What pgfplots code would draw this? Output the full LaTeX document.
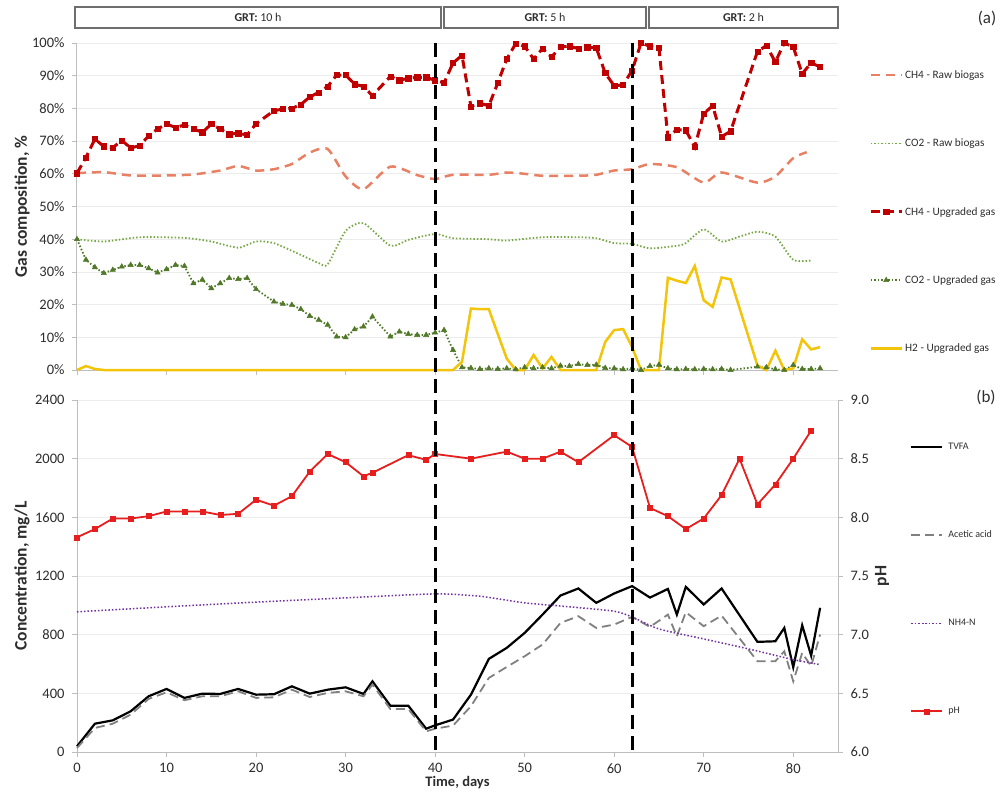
\documentclass[border=0pt]{standalone}
\usepackage{fontspec}
\setmainfont{Carlito}
\usepackage{pgfplots}
\pgfplotsset{compat=1.18}

\definecolor{ch4raw}{RGB}{232,128,100}
\definecolor{co2raw}{RGB}{120,168,70}
\definecolor{ch4up}{RGB}{192,0,0}
\definecolor{co2up}{RGB}{80,120,40}
\definecolor{htwo}{RGB}{242,196,10}
\definecolor{nhfour}{RGB}{112,48,160}
\definecolor{phred}{RGB}{230,30,30}
\definecolor{axgray}{RGB}{190,190,190}
\definecolor{gridgray}{RGB}{236,236,236}
\definecolor{txt}{RGB}{45,45,45}
\definecolor{boxgray}{RGB}{110,110,110}

\newcommand{\tickfont}{\fontsize{14.5}{16}\selectfont}
\newcommand{\labfont}{\bfseries\fontsize{17.5}{19}\selectfont}
\newcommand{\xlabfont}{\bfseries\fontsize{14.5}{16}\selectfont}

\pgfplotsset{
  common/.style={
    scale only axis, width=761pt, xmin=0, xmax=85,
    xtick={0,10,...,80},
    tick align=outside, major tick length=5pt,
    axis line style={draw=axgray, line width=1pt},
    tick style={draw=axgray, line width=0.8pt},
    tick label style={font=\tickfont, text=txt},
    xticklabel style={yshift=-3pt},
    /pgf/number format/assume math mode=true,
    /pgf/number format/1000 sep={},
    ymajorgrids, major grid style={draw=gridgray, line width=0.8pt},
    clip=false,
    legend cell align=left,
    legend image code/.code={\draw[mark repeat=2,mark phase=2,##1] plot coordinates {(0pt,0pt) (15.5pt,0pt) (31pt,0pt)};},
  }
}

\begin{document}
\begin{tikzpicture}
\path[use as bounding box] (0,0) rectangle (1000pt,-793pt);

% ---------------- (a) gas composition ----------------
\begin{axis}[common, at={(77pt,-43pt)}, anchor=north west, height=327pt,
  axis x line*=bottom, axis y line*=left,
  ymin=0, ymax=100, ytick={0,10,...,100},
  yticklabel={\pgfmathprintnumber{\tick}\%},
  yticklabel style={xshift=-4pt},
  xticklabels={},
  ylabel={Gas composition, \%},
  ylabel style={font=\labfont, text=txt, at={(rel axis cs:-0.0723,0.5)}, anchor=center},
  legend style={at={(rel axis cs:1.0407,0.4835)}, anchor=west, draw=none, fill=none,
    row sep=55pt, font=\fontsize{11.3}{13}\selectfont, text=txt, inner sep=0pt,
    nodes={inner sep=2pt}},
]
\addplot[ch4raw, line width=2.5pt, dash pattern=on 9pt off 6pt, smooth, tension=0.4] coordinates {
(0,60.2) (3,60.5) (6,59.5) (10,59.5) (13,59.8) (16,61.0) (18,62.4) (20,61.0) (22,61.4)
(24,63.0) (26,66.5) (28,67.6) (30,59.2) (32,55.3) (35,62.2) (38,59.6) (40,58.4)
(42,59.7) (46,59.7) (48,60.4) (50,60.0) (52,59.4) (56,59.4) (58,59.7) (60,61.0)
(62,61.4) (64,63.0) (67,62.0) (70,57.3) (72,60.4) (76,57.3) (78,59.2) (80,64.8) (81.5,66.6)};
\addlegendentry{CH4 - Raw biogas}

\addplot[co2raw, line width=1.8pt, dash pattern=on 1.5pt off 2pt, smooth, tension=0.4] coordinates {
(0,40.0) (3,39.3) (7,40.6) (12,40.4) (15,39.3) (18,37.4) (20,39.3) (22,38.8) (25,35.2)
(27,32.7) (28,32.3) (30,42.5) (32,44.9) (35,38.0) (37,39.8) (40,41.6) (42,40.3) (46,40.0)
(48,39.6) (52,40.6) (56,40.6) (58,40.3) (60,38.8) (62,38.6) (64,37.2) (67,38.0) (68,38.8)
(70,43.0) (72,39.3) (74,40.8) (76,42.3) (78,40.8) (80,33.7) (82,33.5)};
\addlegendentry{CO2 - Raw biogas}

\addplot[ch4up, line width=3pt, dash pattern=on 9pt off 5pt, mark=square*, mark size=2.6pt,
  mark options={solid, line width=0.5pt}] coordinates {
(0,60.2) (1,65.0) (2,70.6) (3,68.4) (4,68.0) (5,70.2) (6,67.9) (7,68.6) (8,71.6) (9,73.7)
(10,75.2) (11,74.2) (12,74.9) (13,73.7) (14,72.7) (15,75.2) (16,73.7) (17,72.1) (18,72.4)
(19,71.9) (20,75.3) (22,79.3) (23,79.8) (24,80.0) (25,81.2) (26,83.5) (27,84.9) (28,86.7)
(29,90.2) (30,90.2) (31,87.4) (32,86.7) (33,83.9) (35,89.8) (36,88.6) (37,89.2) (38,89.5)
(39,89.5) (40,88.6) (41,87.8) (42,93.9) (43,96.2) (44,80.6) (45,81.6) (46,80.8) (47,87.8)
(48,95.1) (49,99.8) (50,99.0) (51,95.1) (52,98.3) (53,95.7) (54,98.8) (55,99.0) (56,98.3)
(57,98.7) (58,98.5) (59,90.8) (60,86.9) (61,87.2) (62,91.6) (63,100.0) (64,99.0) (65,98.5)
(66,71.2) (67,73.5) (68,73.3) (69,68.2) (70,78.4) (71,80.8) (72,71.4) (73,73.0) (76,97.4)
(77,99.2) (78,94.2) (79,100.0) (80,98.8) (81,90.6) (82,93.9) (83,92.7)};
\addlegendentry{CH4 - Upgraded gas}

\addplot[co2up, line width=1.8pt, dash pattern=on 1.5pt off 2pt, mark=triangle*, mark size=3pt,
  mark options={solid, line width=0.5pt}] coordinates {
(0,40.0) (1,33.7) (2,31.4) (3,29.6) (4,30.6) (5,31.6) (6,32.1) (7,32.1) (8,31.1) (9,29.8)
(10,30.8) (11,32.1) (12,31.8) (13,26.5) (14,27.6) (15,25.0) (16,26.5) (17,28.1) (18,27.8)
(19,28.1) (20,24.7) (22,20.9) (23,20.2) (24,19.9) (25,18.6) (26,16.5) (27,15.3) (28,13.8)
(29,10.2) (30,10.0) (31,12.4) (32,13.3) (33,16.3) (35,10.2) (36,11.7) (37,11.0) (38,10.7)
(39,10.7) (40,11.4) (41,12.2) (42,6.1) (43,0.8) (44,0.6) (45,0.3) (46,0.5) (47,0.3)
(48,0.5) (49,0.2) (50,0.8) (51,0.5) (52,0.8) (53,0.5) (54,1.3) (55,1.2) (56,1.8) (57,1.5)
(58,1.6) (59,0.6) (60,0.5) (61,0.2) (62,0.5) (63,0.0) (64,1.2) (65,1.6) (66,0.5) (67,0.2)
(68,0.3) (69,0.2) (70,0.3) (71,0.2) (72,0.3) (73,0.0) (76,1.0) (77,0.8) (78,0.2) (79,0.0)
(80,1.5) (81,0.3) (82,0.3) (83,0.5)};
\addlegendentry{CO2 - Upgraded gas}

\addplot[htwo, line width=2.5pt] coordinates {
(0,0) (1,1.2) (2,0.3) (3,0) (40,0) (42,0) (43,2.5) (44,18.8) (45,18.6) (46,18.6) (47,11.0)
(48,3.5) (49,0) (50,0) (51,4.6) (52,0.5) (53,4.0) (54,0) (58,0) (59,8.6) (60,12.2) (61,12.5)
(62,7.0) (63,0) (64,0) (65,0) (66,28.2) (67,27.3) (68,26.6) (69,31.8) (70,21.3) (71,19.3)
(72,28.3) (73,27.7) (76,1.4) (77,0) (78,5.9) (79,0) (80,0.5) (81,9.4) (82,6.3) (83,7.0)};
\addlegendentry{H2 - Upgraded gas}

\coordinate (a40) at (axis cs:40,100);
\coordinate (a62) at (axis cs:62,100);
\end{axis}

% ---------------- (b) concentrations ----------------
\begin{axis}[common, at={(77pt,-400pt)}, anchor=north west, height=352pt,
  axis x line*=bottom, axis y line*=left,
  ymin=0, ymax=2400, ytick={0,400,...,2400},
  yticklabel style={xshift=-4pt},
  xlabel={Time, days},
  xlabel style={font=\xlabfont, text=txt, inner sep=1pt, at={(rel axis cs:0.5,-0.0855)}, anchor=center},
  ylabel={Concentration, mg/L},
  ylabel style={font=\labfont, text=txt, at={(rel axis cs:-0.0723,0.5)}, anchor=center},
  legend style={at={(rel axis cs:1.0946,0.491)}, anchor=west, draw=none, fill=none,
    row sep=76pt, font=\fontsize{10}{12}\selectfont, text=txt, inner sep=0pt,
    nodes={inner sep=2pt}, column sep=3pt},
]
\addplot[black, line width=2.2pt] coordinates {
(0,39) (2,193) (4,216) (6,278) (8,380) (10,430) (12,369) (14,398) (16,396) (18,430)
(20,391) (22,394) (24,448) (26,398) (28,425) (30,441) (32,396) (33,482) (35,316) (37,316)
(39,159) (40,182) (42,221) (44,391) (46,635) (48,710) (50,812) (52,937) (54,1067) (56,1115)
(58,1017) (60,1081) (62,1131) (64,1053) (66,1112) (67,937) (68,1126) (70,1006) (72,1115)
(76,751) (78,755) (79,846) (80,578) (81,864) (82,657) (83,983)};
\addlegendentry{TVFA}

\addplot[gray, line width=1.8pt, dash pattern=on 9pt off 5pt] coordinates {
(0,27) (2,164) (4,193) (6,255) (8,362) (10,407) (12,353) (14,380) (16,380) (18,414)
(20,369) (22,373) (24,425) (26,375) (28,403) (30,414) (32,380) (33,460) (35,293) (37,293)
(39,141) (40,159) (42,180) (44,312) (46,505) (48,580) (50,653) (52,733) (54,880) (56,926)
(58,846) (60,869) (62,921) (64,853) (66,937) (67,789) (68,953) (70,858) (72,930)
(76,619) (78,619) (79,687) (80,482) (81,676) (82,585) (83,801)};
\addlegendentry{Acetic acid}

\addplot[nhfour, line width=1.5pt, dash pattern=on 1.5pt off 2pt, smooth, tension=0.4] coordinates {
(0,956) (10,990) (20,1022) (30,1051) (40,1078) (45,1062) (50,1017) (55,990) (60,960)
(62,921) (65,839) (70,771) (75,703) (80,630) (83,596)};
\addlegendentry{NH4-N}

\addlegendimage{phred, line width=1.8pt, mark=square*, mark size=2.5pt, mark options={line width=0.5pt}}
\addlegendentry{pH}

\coordinate (b40) at (axis cs:40,0);
\coordinate (b62) at (axis cs:62,0);
\end{axis}

\begin{axis}[common, at={(77pt,-400pt)}, anchor=north west, height=352pt,
  axis x line=none, axis y line*=right, ymajorgrids=false,
  ymin=6, ymax=9, ytick={6,6.5,7,7.5,8,8.5,9},
  yticklabel style={xshift=4pt, /pgf/number format/fixed, /pgf/number format/precision=1,
    /pgf/number format/fixed zerofill},
  ylabel={pH},
  ylabel style={font=\labfont, text=txt, at={(rel axis cs:1.058,0.5)}, anchor=center, rotate=0},
]
\addplot[phred, line width=1.8pt, mark=square*, mark size=2.5pt, mark options={line width=0.5pt}] coordinates {
(0,7.83) (2,7.90) (4,7.99) (6,7.99) (8,8.01) (10,8.05) (12,8.05) (14,8.05) (16,8.02) (18,8.03)
(20,8.15) (22,8.10) (24,8.18) (26,8.39) (28,8.54) (30,8.47) (32,8.35) (33,8.38) (37,8.53)
(39,8.49) (40,8.54) (44,8.50) (48,8.56) (50,8.50) (52,8.50) (54,8.56) (56,8.47) (60,8.70)
(62,8.60) (64,8.08) (66,8.01) (68,7.90) (70,7.99) (72,8.19) (74,8.50) (76,8.11) (78,8.28)
(80,8.50) (82,8.74)};
\end{axis}

% vertical phase separators
\draw[black, line width=3pt, dash pattern=on 14pt off 7pt] (a40) -- (b40);
\draw[black, line width=3pt, dash pattern=on 14pt off 7pt] (a62) -- (b62);

% GRT header boxes
\begin{scope}[every node/.style={font=\fontsize{12}{14}\selectfont, text=txt}]
\draw[boxgray, line width=1.5pt, fill=white] (75pt,-7pt) rectangle (441pt,-28pt);
\node at (258pt,-17.5pt) {\textbf{GRT:} 10 h};
\draw[boxgray, line width=1.5pt, fill=white] (444pt,-7pt) rectangle (646pt,-28pt);
\node at (545pt,-17.5pt) {\textbf{GRT:} 5 h};
\draw[boxgray, line width=1.5pt, fill=white] (649pt,-7pt) rectangle (838pt,-28pt);
\node at (743.5pt,-17.5pt) {\textbf{GRT:} 2 h};
\end{scope}
\node[font=\fontsize{17}{19}\selectfont, text=txt] at (987pt,-18pt) {(a)};
\node[font=\fontsize{17}{19}\selectfont, text=txt] at (986pt,-397pt) {(b)};
\end{tikzpicture}
\end{document}
